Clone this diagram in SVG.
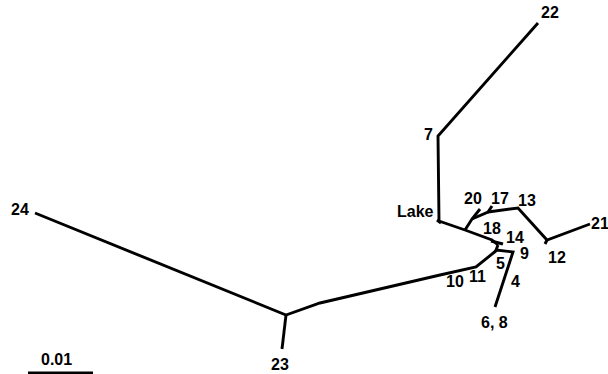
<svg xmlns="http://www.w3.org/2000/svg" width="608" height="374" viewBox="0 0 608 374">
<style>
.e{fill:none;stroke:#000;stroke-width:2.9;stroke-linejoin:miter;stroke-linecap:butt}
text{font-family:"Liberation Sans",Arial,sans-serif;font-weight:bold;font-size:16px;fill:#000}
</style>
<rect width="608" height="374" fill="#fff"/>
<g id="connectors">
<polyline class="e" points="538,23 438,136 439,221 465,230 492,240 498,245"/>
<line class="e" x1="437" y1="220" x2="441" y2="223"/>
<polyline class="e" points="465,230 472,219 480,209"/>
<polyline class="e" points="472,219 488,212 492,206"/>
<polyline class="e" points="488,212 518,208 547,240 590,224"/>
<line class="e" x1="547" y1="240" x2="545" y2="244"/>
<line class="e" x1="491" y1="241" x2="503" y2="244"/>
<polyline class="e" points="498,245 496,250 513,252 495,307"/>
<polyline class="e" points="497,250 476,267 440,275 320,303 286,315 35,213"/>
<line class="e" x1="286" y1="315" x2="282" y2="349"/>
<line class="e" x1="28" y1="373" x2="93" y2="373"/>
</g>
<g id="n22"><text x="541" y="18">22</text></g>
<g id="n7"><text x="424" y="140">7</text></g>
<g id="nLake"><text x="397" y="217">Lake</text></g>
<g id="n24"><text x="11" y="215">24</text></g>
<g id="n23"><text x="271" y="370">23</text></g>
<g id="n20"><text x="464" y="204">20</text></g>
<g id="n17"><text x="491" y="204">17</text></g>
<g id="n13"><text x="518" y="206">13</text></g>
<g id="n18"><text x="483" y="234">18</text></g>
<g id="n14"><text x="506" y="243">14</text></g>
<g id="n9"><text x="520" y="259">9</text></g>
<g id="n5"><text x="496" y="269">5</text></g>
<g id="n11"><text x="469" y="282">11</text></g>
<g id="n10"><text x="446" y="287">10</text></g>
<g id="n4"><text x="511" y="287">4</text></g>
<g id="n68"><text x="481" y="328">6, 8</text></g>
<g id="n12"><text x="548" y="263">12</text></g>
<g id="n21"><text x="591" y="229">21</text></g>
<g id="scale"><text x="41" y="365">0.01</text></g>
</svg>
